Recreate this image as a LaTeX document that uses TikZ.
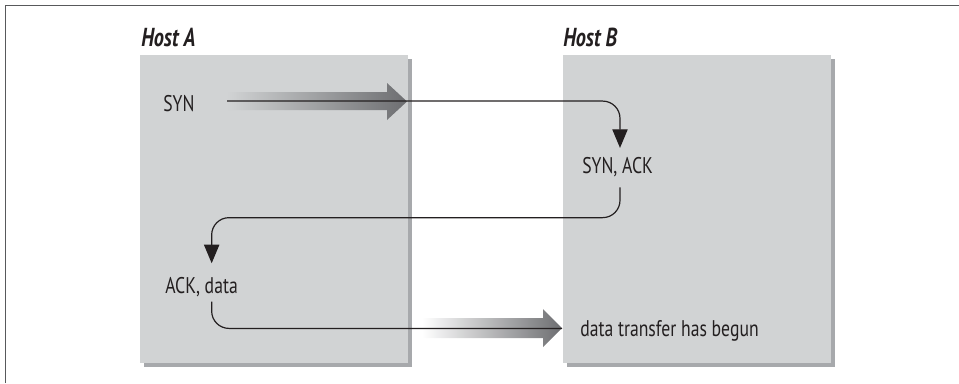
\documentclass[tikz,border=0pt]{standalone}
\usepackage{fontspec}
\setmainfont{PT Sans}[FakeStretch=0.78]
\usetikzlibrary{arrows.meta, positioning, shadows}

\definecolor{hostfill}{HTML}{D1D3D4}
\definecolor{hostshadow}{HTML}{A7A9AC}
\definecolor{pipegray}{HTML}{6D6E71}
\definecolor{ink}{HTML}{231F20}
\definecolor{framegray}{HTML}{58595B}

\begin{document}
\begin{tikzpicture}[x=0.75pt, y=-0.75pt,
    host/.style={rectangle, fill=hostfill, inner sep=0pt, anchor=north west,
        minimum width = 201pt, minimum height = 231pt,
        drop shadow={shadow xshift=3pt, shadow yshift=-3pt, fill=hostshadow, opacity=1}},
    hostlabel/.style={anchor=base west, inner sep=0pt, text=ink,
        font=\fontsize{19.5}{23}\selectfont\bfseries\itshape},
    msgtext/.style={anchor=base west, inner sep=0pt, text=ink,
        font=\fontsize{17}{20}\selectfont},
    msg/.style={draw=ink, line width=0.9pt, rounded corners=13pt},
    tip/.style={-{Triangle[length=14pt, width=11.5pt]}},
    pipeflow/.style={left color=white, right color=pipegray}
]

    \useasboundingbox (0,0) rectangle (959,383);
    \draw[draw=framegray, line width=1.2pt] (5.5,383) -- (5.5,5.5) -- (959,5.5);

    % Hosts ------------------------------------------------------

    \node[host] (boxA) at (140,55) {};
    \node[host] (boxB) at (563,55) {};
    \node[hostlabel] (hostA) at (141,46) {Host A};
    \node[hostlabel] (hostB) at (563,46) {Host B};

    % Pipes ------------------------------------------------------

    \shade[pipeflow, left color=hostfill] (227,92) -- (387,92) -- (387,83)
        -- (407,101.5) -- (387,120) -- (387,110) -- (227,110) -- cycle;
    \shade[pipeflow] (422,318) -- (543,318) -- (543,309) -- (562,328)
        -- (543,347) -- (543,338) -- (422,338) -- cycle;

    % Messages ---------------------------------------------------

    \node[msgtext] (syn) at (163,111) {SYN};
    \node[msgtext] (synack) at (582,173) {SYN, ACK};
    \node[msgtext] (ackdata) at (165,293) {ACK, data};
    \node[msgtext] (begun) at (580,336) {data transfer has begun};

    \draw[msg, tip, shorten >=6.5pt] ([shift={(64,-2)}]syn.west)
        -| ([xshift=28.5pt]synack.north west);
    \draw[msg, tip, shorten <=8pt, shorten >=10pt] ([xshift=28.5pt]synack.south west)
        -- ++(0,41) -| ([xshift=35pt]ackdata.north west);
    \draw[msg, shorten <=3.75pt, shorten >=13.5pt] ([xshift=35pt]ackdata.south west)
        |- ([yshift=1.5pt]begun.west);

\end{tikzpicture}
\end{document}
